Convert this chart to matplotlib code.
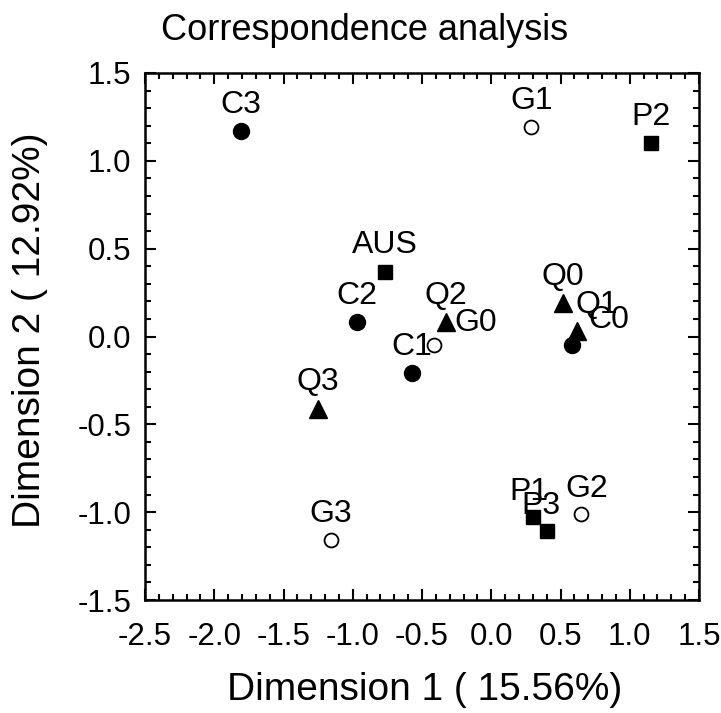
import matplotlib
matplotlib.use("Agg")
import matplotlib.pyplot as plt
from matplotlib.ticker import MultipleLocator

plt.rcParams['font.family'] = ['Liberation Sans', 'DejaVu Sans']

# Data
labels = ["C3", "G1", "P2", "AUS", "C2", "Q2", "G0", "C1", "Q0", "Q1", "C0", "Q3", "G3", "P1", "P3", "G2"]
dim1 = [-1.81, 0.29, 1.15, -0.77, -0.97, -0.33, -0.41, -0.57, 0.52, 0.62, 0.58, -1.25, -1.16, 0.30, 0.40, 0.65]
dim2 = [1.17, 1.19, 1.10, 0.37, 0.08, 0.08, -0.05, -0.21, 0.19, 0.03, -0.05, -0.41, -1.16, -1.03, -1.11, -1.01]
kinds = ["C", "G", "P", "P", "C", "Q", "G", "C", "Q", "Q", "C", "Q", "G", "P", "P", "G"]

xticks = [-2.5, -2.0, -1.5, -1.0, -0.5, 0.0, 0.5, 1.0, 1.5]
yticks = [-1.5, -1.0, -0.5, 0.0, 0.5, 1.0, 1.5]

# label offsets in points (dx, dy)
offsets = {"G0": (30, 16), "Q1": (14, 19), "C0": (27, 18), "P1": (-3, 18), "P3": (-4, 18), "G2": (4, 18)}

styles = {
    "C": dict(marker="o", markersize=11.5, markerfacecolor="black", markeredgecolor="black"),
    "G": dict(marker="o", markersize=10, markerfacecolor="white", markeredgecolor="black", markeredgewidth=1.3),
    "P": dict(marker="s", markersize=10, markerfacecolor="black", markeredgecolor="black"),
    "Q": dict(marker="^", markersize=12.5, markerfacecolor="black", markeredgecolor="black"),
}

fig = plt.figure(figsize=(7.21, 7.13), dpi=100)
ax = fig.add_axes([145/721, 1 - 600/713, 554/721, 527/713])

for lab, x, y, k in zip(labels, dim1, dim2, kinds):
    ax.plot([x], [y], linestyle="none", **styles[k])
    dx, dy = offsets.get(lab, (0, 19))
    ax.annotate(lab, (x, y), xytext=(dx, dy), textcoords="offset points",
                ha="center", va="center", fontsize=23)

ax.set_xlim(-2.5, 1.5)
ax.set_ylim(-1.5, 1.5)
ax.set_xticks(xticks)
ax.set_yticks(yticks)
ax.set_xticklabels([f"{t:.1f}" for t in xticks])
ax.set_yticklabels([f"{t:.1f}" for t in yticks])
ax.xaxis.set_minor_locator(MultipleLocator(0.1))
ax.yaxis.set_minor_locator(MultipleLocator(0.1))
ax.tick_params(which="both", direction="in", top=True, right=True, labelsize=22.5, width=1.5)
ax.tick_params(which="major", length=8)
ax.tick_params(axis="x", which="major", pad=16)
ax.tick_params(axis="y", which="major", pad=10)
ax.tick_params(which="minor", length=4)
for s in ax.spines.values():
    s.set_linewidth(1.8)

fig.text(365/721, 1 - 30/713, "Correspondence analysis", ha="center", va="center", fontsize=26)
fig.text(425/721, 1 - 690/713, "Dimension 1 ( 15.56%)", ha="center", va="center", fontsize=28)
fig.text(30/721, 1 - 330/713, "Dimension 2 ( 12.92%)", ha="center", va="center", fontsize=28, rotation=90)

fig.savefig("out.png", dpi=100)
